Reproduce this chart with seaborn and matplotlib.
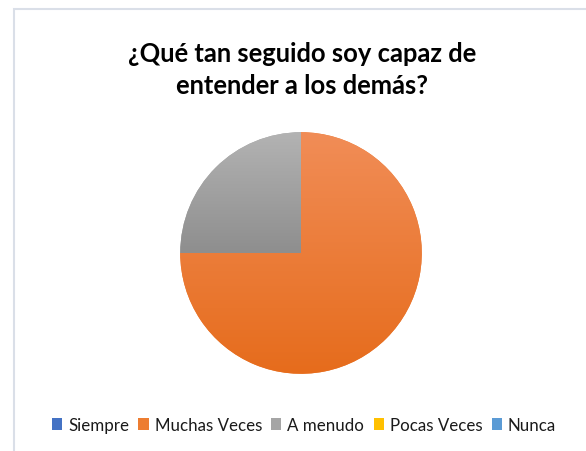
import numpy as np
import matplotlib
matplotlib.use("Agg")
import matplotlib.pyplot as plt
import matplotlib.colors as mcolors
from matplotlib.patches import Patch, Rectangle
import seaborn as sns

# Survey answers and counts
categories = ["Siempre", "Muchas Veces", "A menudo", "Pocas Veces", "Nunca"]
counts = [0, 3, 1, 0, 0]
title_text = "¿Qué tan seguido soy capaz de\nentender a los demás?"

# Office-style palette with light/dark ends for the vertical gradient fill
palette = sns.color_palette(["#4472C4", "#ED7D31", "#A5A5A5", "#FFC000", "#5B9BD5"])
grad_top = ["#6D8FD6", "#F18D57", "#B3B3B3", "#FFCD40", "#7DB0DE"]
grad_bottom = ["#3A62AE", "#E66C1C", "#8E8E8E", "#E8AE00", "#4A88C2"]

sns.set_style("white")
plt.rcParams["font.family"] = ["Lato", "DejaVu Sans"]

W, H = 586, 452
fig = plt.figure(figsize=(W / 100, H / 100), dpi=100)
fig.patch.set_facecolor("white")

# Chart area frame
fig.patches.append(Rectangle((13.5 / W, -0.05), 1.2, (H - 9.5) / H + 0.05,
                             transform=fig.transFigure, fill=False,
                             edgecolor="#DADFE8", linewidth=1.5, zorder=0))

# Pie axes: centre (301, 254) px, radius 122 px
cx, cy, r = 301, 254, 122
ax = fig.add_axes([(cx - r) / W, (H - cy - r) / H, 2 * r / W, 2 * r / H])
wedges, _ = ax.pie(counts, startangle=90, counterclock=False, radius=1,
                   colors=palette, wedgeprops=dict(linewidth=0))
ax.set_aspect("equal")
ax.axis("off")

# Vertical gradient inside each non-empty slice
for w, v, top, bot in zip(wedges, counts, grad_top, grad_bottom):
    if v <= 0:
        w.set_visible(False)
        continue
    ext = w.get_path().get_extents()
    cmap = mcolors.LinearSegmentedColormap.from_list("g", [bot, top])
    grad = np.linspace(0, 1, 256).reshape(-1, 1)
    img = ax.imshow(grad, cmap=cmap, origin="lower", aspect="auto",
                    extent=[ext.x0, ext.x1, ext.y0, ext.y1], zorder=2)
    img.set_clip_path(w)
ax.set_xlim(-1.01, 1.01)
ax.set_ylim(-1.01, 1.01)

fig.text(302 / W, 1 - 70 / H, title_text, ha="center", va="center",
         fontsize=18.4, fontweight="bold", color="#000000", linespacing=1.35)

handles = [Patch(facecolor=c, edgecolor="none") for c in palette]
fig.legend(handles, categories, loc="center", bbox_to_anchor=(304 / W, 1 - 426 / H),
           ncol=5, frameon=False, fontsize=12.2, handlelength=0.6,
           handleheight=0.65, handletextpad=0.35, columnspacing=0.55,
           labelcolor="#1A1A1A")

fig.savefig("out.png", dpi=100, facecolor="white")
